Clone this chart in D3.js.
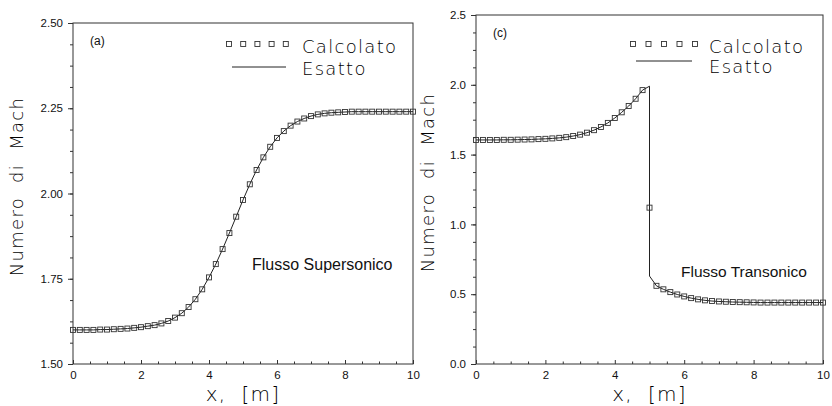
<!DOCTYPE html>
<html>
<head>
<meta charset="utf-8">
<script src="https://cdn.jsdelivr.net/npm/d3@7"></script>
<style>
  body { margin: 0; background: #fff; }
  svg { display: block; }
  .tick text { font-family: "Liberation Sans", Arial, sans-serif; font-size: 11.5px; fill: #111; }
  .geo { font-family: "DejaVu Sans", sans-serif; font-weight: 200; fill: #000; }
  .plain { font-family: "Liberation Sans", Arial, sans-serif; fill: #111; }
</style>
</head>
<body>
<svg id="chart" width="832" height="406"></svg>
<script>
// Stations along the duct, metres
const xGrid = [0, 0.2, 0.4, 0.6, 0.8, 1.0, 1.2, 1.4, 1.6, 1.8,
               2.0, 2.2, 2.4, 2.6, 2.8, 3.0, 3.2, 3.4, 3.6, 3.8,
               4.0, 4.2, 4.4, 4.6, 4.8, 5.0, 5.2, 5.4, 5.6, 5.8,
               6.0, 6.2, 6.4, 6.6, 6.8, 7.0, 7.2, 7.4, 7.6, 7.8,
               8.0, 8.2, 8.4, 8.6, 8.8, 9.0, 9.2, 9.4, 9.6, 9.8, 10.0];

// (a) supersonic flow: Mach number at each station
const machSupersonic = [1.600, 1.600, 1.600, 1.600, 1.601, 1.601, 1.602, 1.603, 1.604, 1.606,
                        1.608, 1.611, 1.614, 1.619, 1.626, 1.636, 1.649, 1.667, 1.690, 1.719,
                        1.754, 1.793, 1.837, 1.884, 1.932, 1.981, 2.027, 2.069, 2.106, 2.137,
                        2.163, 2.183, 2.199, 2.211, 2.220, 2.227, 2.232, 2.235, 2.237, 2.238,
                        2.239, 2.240, 2.240, 2.240, 2.240, 2.240, 2.240, 2.240, 2.240, 2.240, 2.240];

// (c) transonic flow with a normal shock: Mach number at each station
const machTransonic = [1.605, 1.605, 1.605, 1.605, 1.606, 1.606, 1.607, 1.608, 1.609, 1.611,
                       1.613, 1.616, 1.620, 1.625, 1.633, 1.643, 1.657, 1.675, 1.698, 1.727,
                       1.762, 1.803, 1.848, 1.900, 1.962, 1.120, 0.560, 0.535, 0.515, 0.498,
                       0.484, 0.472, 0.463, 0.456, 0.451, 0.448, 0.446, 0.444, 0.443, 0.442,
                       0.441, 0.440, 0.440, 0.440, 0.440, 0.440, 0.440, 0.440, 0.440, 0.440, 0.440];

// Exact shock: position and Mach numbers just upstream / downstream
const shockX = 5.0;
const shockUpper = 1.99;
const shockLower = 0.63;

const xTicks = [0, 2, 4, 6, 8, 10];
const xMinorTicks = [0.5, 1, 1.5, 2.5, 3, 3.5, 4.5, 5, 5.5, 6.5, 7, 7.5, 8.5, 9, 9.5];
const yTicksA = [1.50, 1.75, 2.00, 2.25, 2.50];
const yTicksC = [0.0, 0.5, 1.0, 1.5, 2.0, 2.5];

const legendLabels = ["Calcolato", "Esatto"];
const panelTags = ["(a)", "(c)"];
const flowLabels = ["Flusso Supersonico", "Flusso Transonico"];
const yTitle = "Numero  di  Mach";
const xTitle = "x,  [m]";

const svg = d3.select("#chart");

// Exact curve for the transonic case: smooth branches joined by a vertical jump
function transonicExact() {
  const pts = [];
  xGrid.forEach((x, i) => { if (x < shockX) pts.push([x, machTransonic[i]]); });
  pts.push([shockX, shockUpper]);
  pts.push([shockX, shockLower]);
  xGrid.forEach((x, i) => { if (x > shockX) pts.push([x, machTransonic[i]]); });
  return pts;
}

function drawPanel(p) {
  const g = svg.append("g");
  const x = d3.scaleLinear().domain([0, 10]).range([p.left, p.right]);
  const y = d3.scaleLinear().domain(p.yDomain).range([p.bottom, p.top]);

  // frame
  g.append("rect")
    .attr("x", p.left).attr("y", p.top)
    .attr("width", p.right - p.left).attr("height", p.bottom - p.top)
    .attr("fill", "none").attr("stroke", "#333").attr("stroke-width", 1);

  // y axis: major ticks with labels, minor ticks
  g.append("g").attr("transform", `translate(${p.left},0)`)
    .call(d3.axisLeft(y).tickValues(p.yMinor).tickSize(3).tickFormat(""))
    .call(a => a.select(".domain").remove())
    .call(a => a.selectAll("line").attr("stroke", "#333"));
  g.append("g").attr("transform", `translate(${p.left},0)`)
    .call(d3.axisLeft(y).tickValues(p.yTicks).tickSize(5).tickPadding(5).tickFormat(d3.format(p.yFormat)))
    .call(a => a.select(".domain").remove())
    .call(a => a.selectAll("line").attr("stroke", "#333"));

  // x axis: ticks point into the plot
  g.append("g").attr("transform", `translate(0,${p.bottom})`)
    .call(d3.axisBottom(x).tickValues(xMinorTicks).tickSizeInner(-2.5).tickSizeOuter(0).tickFormat(""))
    .call(a => a.select(".domain").remove())
    .call(a => a.selectAll("line").attr("stroke", "#333"));
  g.append("g").attr("transform", `translate(0,${p.bottom})`)
    .call(d3.axisBottom(x).tickValues(xTicks).tickSizeInner(-4).tickSizeOuter(0).tickPadding(7).tickFormat(d3.format("d")))
    .call(a => a.select(".domain").remove())
    .call(a => a.selectAll("line").attr("stroke", "#333"));

  // exact solution
  const line = d3.line().x(d => x(d[0])).y(d => y(d[1]));
  g.append("path").datum(p.exact)
    .attr("d", line).attr("fill", "none")
    .attr("stroke", "#222").attr("stroke-width", 1);

  // computed solution: open squares
  const m = 5;
  g.selectAll("rect.calc").data(xGrid.map((xv, i) => [xv, p.mach[i]]))
    .join("rect").attr("class", "calc")
    .attr("x", d => x(d[0]) - m / 2).attr("y", d => y(d[1]) - m / 2)
    .attr("width", m).attr("height", m)
    .attr("fill", "none").attr("stroke", "#333").attr("stroke-width", 0.9);

  // legend
  const lg = g.append("g");
  for (let k = 0; k < 5; k++) {
    lg.append("rect")
      .attr("x", p.legX + k * p.legStep - m / 2).attr("y", p.legY1 - m / 2)
      .attr("width", m).attr("height", m)
      .attr("fill", "none").attr("stroke", "#333").attr("stroke-width", 0.9);
  }
  lg.append("line")
    .attr("x1", p.lineX1).attr("x2", p.lineX2)
    .attr("y1", p.legY2).attr("y2", p.legY2)
    .attr("stroke", "#222").attr("stroke-width", 1);
  lg.append("text").attr("class", "geo")
    .attr("x", p.legTextX).attr("y", p.legY1 + 9)
    .attr("font-size", 18).attr("letter-spacing", 1.3)
    .text(legendLabels[0]);
  lg.append("text").attr("class", "geo")
    .attr("x", p.legTextX).attr("y", p.legY2 + p.legDy2)
    .attr("font-size", 18).attr("letter-spacing", 1.3)
    .text(legendLabels[1]);

  // panel tag and flow label
  g.append("text").attr("class", "plain")
    .attr("x", p.left + 17).attr("y", p.tagY)
    .attr("font-size", 12).text(p.tag);
  g.append("text").attr("class", "plain")
    .attr("x", p.flowX).attr("y", p.flowY)
    .attr("font-size", p.flowSize).text(p.flow);

  // axis titles
  g.append("text").attr("class", "geo")
    .attr("transform", `translate(${p.yTitleX},${(p.top + p.bottom) / 2 + p.yTitleShift}) rotate(-90)`)
    .attr("text-anchor", "middle").attr("font-size", 18).attr("letter-spacing", 1.3)
    .style("white-space", "pre")
    .text(yTitle);
  g.append("text").attr("class", "geo")
    .attr("x", (p.left + p.right) / 2).attr("y", 401)
    .attr("text-anchor", "middle").attr("font-size", 20).attr("letter-spacing", 1.2)
    .style("white-space", "pre")
    .text(xTitle);
}

drawPanel({
  left: 73, right: 413, top: 23, bottom: 364,
  yDomain: [1.5, 2.5], yTicks: yTicksA, yFormat: ".2f",
  yMinor: d3.range(0, 17).map(i => 1.5 + i * 0.0625),
  mach: machSupersonic,
  exact: xGrid.map((xv, i) => [xv, machSupersonic[i]]),
  legX: 229, legStep: 14.2, legY1: 44, legY2: 67, legDy2: 8,
  lineX1: 232, lineX2: 286, legTextX: 302,
  tag: panelTags[0], tagY: 45,
  flow: flowLabels[0], flowX: 252, flowY: 270, flowSize: 16,
  yTitleX: 23, yTitleShift: -7
});

drawPanel({
  left: 476, right: 823, top: 15, bottom: 364,
  yDomain: [0, 2.5], yTicks: yTicksC, yFormat: ".1f",
  yMinor: d3.range(0, 21).map(i => i * 0.125),
  mach: machTransonic,
  exact: transonicExact(),
  legX: 633, legStep: 15.5, legY1: 44, legY2: 61, legDy2: 12,
  lineX1: 636, lineX2: 692, legTextX: 709,
  tag: panelTags[1], tagY: 37,
  flow: flowLabels[1], flowX: 681, flowY: 277, flowSize: 15.5,
  yTitleX: 434, yTitleShift: -7
});
</script>
</body>
</html>
